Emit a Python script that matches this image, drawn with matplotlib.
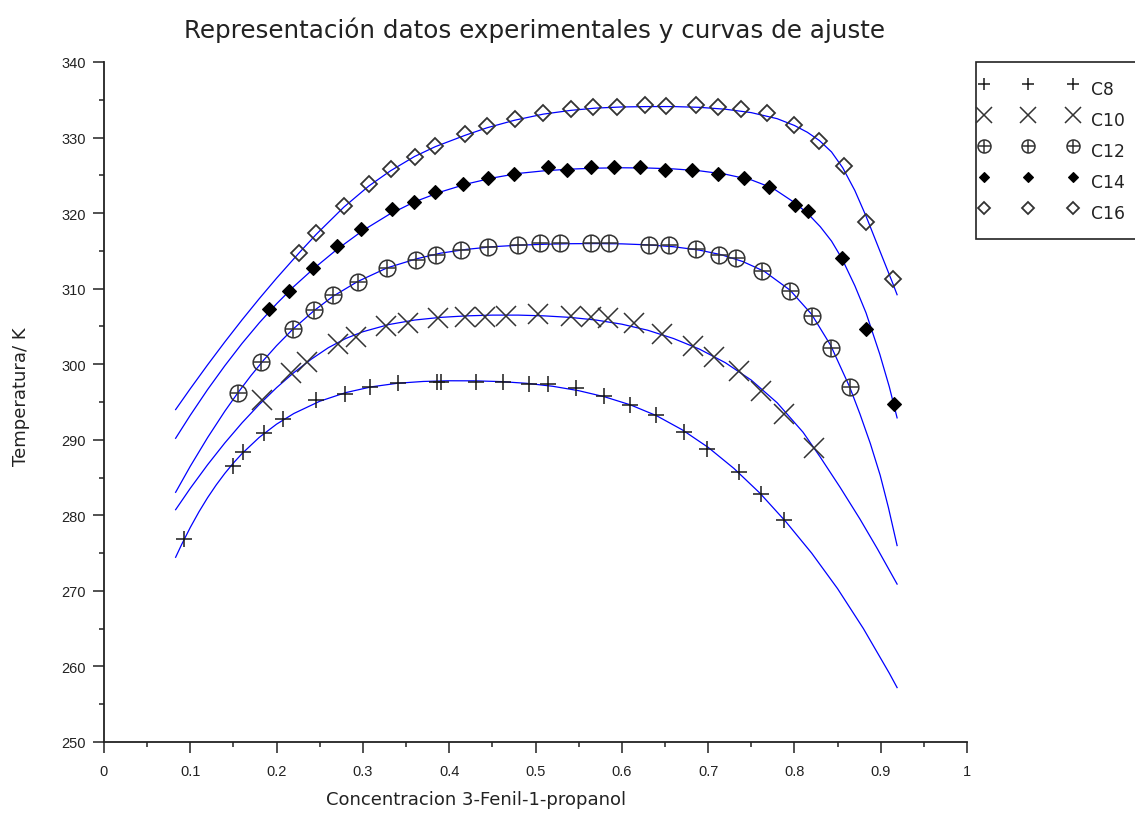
import matplotlib
matplotlib.use('Agg')
import matplotlib.pyplot as plt
from matplotlib.lines import Line2D
from matplotlib.legend_handler import HandlerLine2D, HandlerTuple
from matplotlib.ticker import FixedLocator, FixedFormatter

plt.rcParams['font.family'] = ['Liberation Sans', 'DejaVu Sans']

# ---------------- data: experimental points ----------------
c8_x = [0.093, 0.150, 0.161, 0.185, 0.207, 0.246, 0.279, 0.308, 0.341, 0.386, 0.390, 0.431,
        0.462, 0.493, 0.514, 0.547, 0.579, 0.610, 0.640, 0.672, 0.699, 0.736, 0.761, 0.788]
c8_t = [276.9, 286.5, 288.4, 290.9, 292.8, 295.2, 296.1, 297.0, 297.5, 297.6, 297.6, 297.6,
        297.6, 297.4, 297.4, 296.8, 295.85, 294.6, 293.3, 291.0, 288.8, 285.7, 282.8, 279.4]

c10_x = [0.183, 0.217, 0.235, 0.271, 0.292, 0.327, 0.352, 0.387, 0.418, 0.441, 0.466, 0.503,
         0.541, 0.564, 0.584, 0.614, 0.647, 0.682, 0.707, 0.736, 0.761, 0.788, 0.823]
c10_t = [295.2, 298.8, 300.3, 302.7, 303.6, 305.1, 305.5, 306.1, 306.3, 306.3, 306.4, 306.6,
         306.35, 306.2, 306.1, 305.5, 304.0, 302.45, 300.9, 299.1, 296.5, 293.4, 288.9]

c12_x = [0.155, 0.182, 0.2185, 0.2435, 0.2655, 0.294, 0.328, 0.362, 0.385, 0.414, 0.445, 0.480,
         0.505, 0.528, 0.564, 0.585, 0.632, 0.655, 0.6855, 0.7125, 0.732, 0.762, 0.795, 0.8205,
         0.842, 0.864]
c12_t = [296.2, 300.3, 304.6, 307.2, 309.2, 310.85, 312.7, 313.85, 314.4, 315.15, 315.45, 315.8,
         316.0, 316.0, 316.0, 316.0, 315.8, 315.8, 315.2, 314.45, 314.0, 312.3, 309.7, 306.35,
         302.2, 296.95]

c14_x = [0.191, 0.214, 0.2424, 0.2705, 0.298, 0.334, 0.359, 0.383, 0.416, 0.4455, 0.475, 0.514,
         0.537, 0.564, 0.591, 0.621, 0.650, 0.681, 0.711, 0.742, 0.771, 0.801, 0.8155, 0.855,
         0.883, 0.915]
c14_t = [307.3, 309.7, 312.8, 315.6, 317.9, 320.6, 321.5, 322.85, 323.85, 324.7, 325.2, 326.05,
         325.75, 326.05, 326.05, 326.05, 325.75, 325.75, 325.2, 324.7, 323.4, 321.05, 320.3, 314.0,
         304.6, 294.75]

c16_x = [0.226, 0.246, 0.278, 0.307, 0.332, 0.360, 0.384, 0.4185, 0.444, 0.476, 0.509, 0.541,
         0.567, 0.594, 0.627, 0.651, 0.6855, 0.711, 0.738, 0.768, 0.799, 0.829, 0.857, 0.8835,
         0.914]
c16_t = [314.7, 317.4, 321.0, 323.85, 325.9, 327.4, 328.9, 330.5, 331.5, 332.4, 333.2, 333.8,
         334.0, 334.0, 334.3, 334.2, 334.3, 334.0, 333.8, 333.25, 331.7, 329.5, 326.2, 318.8,
         311.3]

# ---------------- data: fitted curves ----------------
fit8_x = [0.083, 0.09, 0.10, 0.11, 0.12, 0.13, 0.14, 0.15, 0.16, 0.18, 0.20, 0.22, 0.25, 0.28,
          0.31, 0.34, 0.37, 0.40, 0.43, 0.46, 0.49, 0.52, 0.55, 0.58, 0.61, 0.64, 0.67, 0.70,
          0.73, 0.76, 0.79, 0.82, 0.85, 0.88, 0.91, 0.919]
fit8_t = [274.45, 276.15, 278.4, 280.46, 282.33, 284.02, 285.55, 286.93, 288.18, 290.33, 292.07,
          293.48, 295.1, 296.24, 297.01, 297.48, 297.72, 297.81, 297.8, 297.7, 297.47, 297.08,
          296.5, 295.69, 294.62, 293.2, 291.32, 289.0, 286.2, 282.94, 279.17, 275.0, 270.3,
          265.0, 259.1, 257.2]

fit10_x = [0.083, 0.10, 0.12, 0.14, 0.16, 0.18, 0.20, 0.22, 0.24, 0.26, 0.28, 0.30, 0.33, 0.36,
           0.39, 0.42, 0.45, 0.48, 0.51, 0.54, 0.57, 0.60, 0.63, 0.66, 0.69, 0.72, 0.75, 0.78,
           0.81, 0.83, 0.853, 0.876, 0.896, 0.919]
fit10_t = [280.75, 283.58, 286.69, 289.58, 292.25, 294.68, 296.9, 298.89, 300.65, 302.19, 303.4,
           304.3, 305.25, 305.85, 306.2, 306.4, 306.5, 306.5, 306.4, 306.2, 305.85, 305.3, 304.5,
           303.4, 302.0, 300.2, 297.9, 294.9, 291.0, 287.7, 283.7, 279.5, 275.6, 270.9]

fit12_x = [0.083, 0.10, 0.12, 0.14, 0.155, 0.17, 0.185, 0.20, 0.2185, 0.2435, 0.2655, 0.294,
           0.328, 0.362, 0.39, 0.42, 0.45, 0.48, 0.51, 0.54, 0.57, 0.60, 0.63, 0.66, 0.69, 0.715,
           0.74, 0.765, 0.795, 0.82, 0.842, 0.864, 0.876, 0.888, 0.8994, 0.909, 0.919]
fit12_t = [283.05, 286.5, 290.28, 293.78, 296.2, 298.45, 300.54, 302.46, 304.6, 307.1, 309.0,
           310.95, 312.75, 313.95, 314.7, 315.2, 315.55, 315.75, 315.88, 315.95, 315.97, 315.93,
           315.8, 315.55, 315.1, 314.5, 313.6, 312.3, 309.8, 306.6, 302.5, 297.0, 293.4, 289.5,
           285.3, 281.0, 276.0]

fit14_x = [0.083, 0.10, 0.12, 0.14, 0.16, 0.18, 0.20, 0.22, 0.2424, 0.27, 0.30, 0.33, 0.36, 0.39,
           0.42, 0.45, 0.48, 0.51, 0.54, 0.57, 0.60, 0.63, 0.66, 0.69, 0.72, 0.75, 0.775, 0.80,
           0.815, 0.83, 0.843, 0.855, 0.87, 0.883, 0.899, 0.91, 0.919]
fit14_t = [290.2, 293.25, 296.64, 299.8, 302.76, 305.49, 308.0, 310.29, 312.6, 315.2, 317.7,
           319.8, 321.5, 322.8, 323.85, 324.65, 325.25, 325.6, 325.82, 325.95, 326.0, 325.97,
           325.85, 325.6, 325.15, 324.4, 323.3, 321.4, 320.0, 318.2, 316.3, 314.0, 310.4, 306.8,
           301.3, 297.0, 292.9]

fit16_x = [0.083, 0.10, 0.12, 0.14, 0.16, 0.18, 0.20, 0.226, 0.246, 0.278, 0.307, 0.332, 0.36,
           0.384, 0.4185, 0.444, 0.476, 0.509, 0.541, 0.57, 0.60, 0.63, 0.66, 0.69, 0.72, 0.75,
           0.78, 0.80, 0.815, 0.829, 0.843, 0.856, 0.87, 0.883, 0.899, 0.914, 0.919]
fit16_t = [294.0, 296.76, 299.91, 302.95, 305.88, 308.69, 311.39, 314.73, 317.2, 320.8, 323.6,
           325.6, 327.5, 328.8, 330.3, 331.3, 332.3, 333.1, 333.6, 333.9, 334.05, 334.1, 334.1,
           334.0, 333.75, 333.3, 332.5, 331.6, 330.7, 329.6, 328.1, 326.0, 323.0, 319.6, 315.0,
           310.7, 309.2]

series_labels = ['C8', 'C10', 'C12', 'C14', 'C16']

xtick_values = [0, 0.1, 0.2, 0.3, 0.4, 0.5, 0.6, 0.7, 0.8, 0.9, 1.0]
xtick_labels = ['0', '0.1', '0.2', '0.3', '0.4', '0.5', '0.6', '0.7', '0.8', '0.9', '1']
ytick_values = [250, 260, 270, 280, 290, 300, 310, 320, 330, 340]
ytick_labels = ['250', '260', '270', '280', '290', '300', '310', '320', '330', '340']

title_text = 'Representación datos experimentales y curvas de ajuste'
xlabel_text = 'Concentracion 3-Fenil-1-propanol'
ylabel_text = 'Temperatura/ K'

# ---------------- figure ----------------
W, H = 1135, 828
fig = plt.figure(figsize=(W / 100, H / 100), dpi=100)
ax = fig.add_axes([104 / W, 1 - 743 / H, (967 - 104) / W, (743 - 63) / H])

blue = '#0000ff'
mk = '#1a1a1a'
for fx, ft in [(fit8_x, fit8_t), (fit10_x, fit10_t), (fit12_x, fit12_t),
               (fit14_x, fit14_t), (fit16_x, fit16_t)]:
    ax.plot(fx, ft, color=blue, lw=0.9, zorder=2)

st8 = dict(ls='none', marker='+', ms=11.5, mew=1.1, color=mk)
st10 = dict(ls='none', marker='x', ms=14, mew=1.1, color='#333333')
st12o = dict(ls='none', marker='o', ms=12, mew=1.1, mfc='none', mec='#333333')
st12p = dict(ls='none', marker='+', ms=12, mew=1.1, color='#333333')
st14 = dict(ls='none', marker='D', ms=7.0, mew=0.8, color='black', mfc='black')
st16 = dict(ls='none', marker='D', ms=8.4, mew=1.3, mfc='none', mec='#333333')

ax.plot(c8_x, c8_t, zorder=3, **st8)
ax.plot(c10_x, c10_t, zorder=3, **st10)
ax.plot(c12_x, c12_t, zorder=3, **st12o)
ax.plot(c12_x, c12_t, zorder=3, **st12p)
ax.plot(c14_x, c14_t, zorder=3, **st14)
ax.plot(c16_x, c16_t, zorder=3, **st16)

ax.set_xlim(0, 1)
ax.set_ylim(250, 340)
for s in ['top', 'right']:
    ax.spines[s].set_visible(False)
for s in ['left', 'bottom']:
    ax.spines[s].set_linewidth(1.3)
    ax.spines[s].set_color('#222222')

ax.xaxis.set_major_locator(FixedLocator(xtick_values))
ax.xaxis.set_major_formatter(FixedFormatter(xtick_labels))
ax.yaxis.set_major_locator(FixedLocator(ytick_values))
ax.yaxis.set_major_formatter(FixedFormatter(ytick_labels))
ax.xaxis.set_minor_locator(FixedLocator([v + 0.05 for v in xtick_values[:-1]]))
ax.yaxis.set_minor_locator(FixedLocator([v + 5 for v in ytick_values[:-1]]))
ax.tick_params(which='major', direction='out', length=8, width=1.1, color='#222222',
               labelsize=10.5, labelcolor='#222222')
ax.tick_params(which='minor', direction='out', length=3.5, width=1.1, color='#222222')
ax.tick_params(axis='x', which='major', pad=8)
ax.tick_params(axis='y', which='major', pad=5)

lab_font = ['DejaVu Sans']
fig.text(534 / W, 1 - 30 / H, title_text, ha='center', va='center', fontsize=17.7,
         color='#222222', family=lab_font)
fig.text(476 / W, 1 - 800 / H, xlabel_text, ha='center', va='center', fontsize=13,
         color='#222222', family=lab_font)
fig.text(21 / W, 1 - 397 / H, ylabel_text, ha='center', va='center', rotation=90,
         fontsize=13, color='#222222', family=lab_font)

# ---------------- legend ----------------
h8 = Line2D([], [], **st8)
h10 = Line2D([], [], **st10)
h12 = (Line2D([], [], **st12o), Line2D([], [], **st12p))
h14 = Line2D([], [], **st14)
h16 = Line2D([], [], **st16)

fs = 12.3
fspx = fs * 100 / 72
leg = fig.legend([h8, h10, h12, h14, h16], series_labels,
                 loc='upper left', bbox_to_anchor=(976 / W, 1 - 63 / H, 0.2, 0),
                 mode='expand', borderaxespad=0, ncol=1,
                 numpoints=3, markerscale=0.78,
                 handler_map={Line2D: HandlerLine2D(marker_pad=-3.6 / fspx, numpoints=3),
                              tuple: HandlerTuple(ndivide=1)},
                 prop={'size': fs, 'family': lab_font}, borderpad=11.5 / fspx,
                 handleheight=2.3, labelspacing=1.3 / fspx, handlelength=81.5 / fspx,
                 handletextpad=22.0 / fspx,
                 frameon=True, fancybox=False, edgecolor='#222222', framealpha=1)
leg.get_frame().set_linewidth(1.2)
for t in leg.get_texts():
    t.set_color('#222222')

fig.savefig('out.png', dpi=100)
